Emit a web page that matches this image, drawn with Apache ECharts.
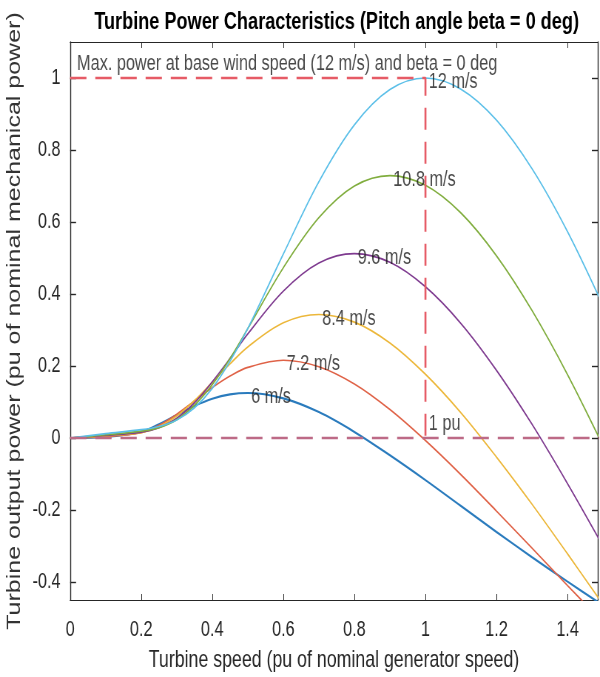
<!DOCTYPE html>
<html>
<head>
<meta charset="utf-8">
<script src="https://cdn.jsdelivr.net/npm/echarts@6/dist/echarts.min.js"></script>
<style>
  html, body { margin: 0; padding: 0; background: #fff; overflow: hidden; }
  /* the reference is squeezed horizontally, so draw wider and scale the box */
  #main { width: 811px; height: 677px; transform: scaleX(0.7398); transform-origin: 0 0; }
</style>
</head>
<body>
<div id="main"></div>
<script>
// turbine speed (pu) where the curves were read
var speed = [0, 0.1, 0.2, 0.25, 0.3, 0.35, 0.4, 0.45, 0.5, 0.6, 0.7, 0.8, 0.9, 1.0, 1.1, 1.2, 1.3, 1.4, 1.5];

// output power (pu) for each wind speed
var power6  = [0, 0.003, 0.017, 0.038, 0.064, 0.089, 0.109, 0.121, 0.125, 0.110, 0.072, 0.017, -0.048, -0.117, -0.189, -0.261, -0.331, -0.399, -0.465];
var power72 = [0, 0.004, 0.015, 0.035, 0.066, 0.103, 0.140, 0.172, 0.196, 0.216, 0.198, 0.150, 0.079, -0.007, -0.102, -0.203, -0.306, -0.410, -0.512];
var power84 = [0, 0.006, 0.015, 0.031, 0.061, 0.104, 0.155, 0.206, 0.253, 0.320, 0.343, 0.322, 0.264, 0.177, 0.070, -0.053, -0.184, -0.322, -0.463];
var power96 = [0, 0.007, 0.016, 0.029, 0.055, 0.098, 0.156, 0.221, 0.289, 0.408, 0.486, 0.512, 0.488, 0.420, 0.318, 0.188, 0.038, -0.127, -0.301];
var power108 = [0, 0.009, 0.019, 0.029, 0.051, 0.091, 0.148, 0.221, 0.304, 0.473, 0.612, 0.700, 0.729, 0.702, 0.625, 0.506, 0.354, 0.176, -0.022];
var power12 = [0, 0.012, 0.023, 0.032, 0.050, 0.084, 0.138, 0.213, 0.304, 0.511, 0.712, 0.870, 0.968, 1.000, 0.969, 0.883, 0.748, 0.573, 0.367];

var windNames = ['6 m/s', '7.2 m/s', '8.4 m/s', '9.6 m/s', '10.8 m/s', '12 m/s'];
var curves = [power6, power72, power84, power96, power108, power12];

// text labels placed on the chart (data coords)
var labelX = [0.5, 0.6, 0.7, 0.8, 0.9, 1.0, 1.0, 0.01];
var labelY = [0.125, 0.216, 0.343, 0.512, 0.729, 1.0, 0.05, 1.05];
var labelText = windNames.concat(['1 pu', 'Max. power at base wind speed (12 m/s) and beta = 0 deg']);

// reference lines
var maxLineX = [0, 1, 1];
var maxLineY = [1, 1, 0];
var zeroLineX = [0, 1.5];
var zeroLineY = [0, 0];

var xTicks = [0, 0.2, 0.4, 0.6, 0.8, 1, 1.2, 1.4];
var yTicks = [-0.4, -0.2, 0, 0.2, 0.4, 0.6, 0.8, 1];

var colors = ['#2a7bbd', '#df6247', '#ecb73a', '#7e3a8f', '#80ad3e', '#5bbfe8'];

function pairs(xs, ys) {
  return xs.map(function (x, i) { return [x, ys[i]]; });
}

var axisColor = '#262626';
var font = 'Liberation Sans, Arial, sans-serif';

var series = curves.map(function (c, i) {
  return {
    name: windNames[i],
    type: 'line',
    data: pairs(speed, c),
    showSymbol: false,
    smooth: 0.35,
    lineStyle: { color: colors[i], width: i === 0 ? 2.2 : 1.7 },
    z: 2
  };
});

series.push({
  type: 'line',
  data: pairs(maxLineX, maxLineY),
  showSymbol: false,
  lineStyle: { color: '#e65b66', width: 2.7, type: [22, 12] },
  z: 3
});
series.push({
  type: 'line',
  data: pairs(zeroLineX, zeroLineY),
  showSymbol: false,
  lineStyle: { color: '#bd6a86', width: 2.7, type: [22, 12] },
  z: 3
});
series.push({
  type: 'scatter',
  data: labelX.map(function (x, i) { return [x, labelY[i], labelText[i]]; }),
  symbolSize: 1,
  itemStyle: { color: 'rgba(0,0,0,0)' },
  label: {
    show: true,
    position: 'right',
    distance: 0,
    offset: [4, 4],
    formatter: function (p) { return p.value[2]; },
    fontSize: 22,
    fontFamily: font,
    color: '#1a1a1a'
  },
  z: 4
});

var chart = echarts.init(document.getElementById('main'));
chart.setOption({
  animation: false,
  textStyle: { fontFamily: font },
  title: {
    text: 'Turbine Power Characteristics (Pitch angle beta = 0 deg)',
    left: 450,
    textAlign: 'center',
    top: 5,
    textStyle: { fontSize: 24.5, fontWeight: 'bold', color: '#000', fontFamily: font }
  },
  grid: { left: 92, right: 3, top: 42, bottom: 73 },
  xAxis: [{
    type: 'value',
    min: 0,
    max: 1.485,
    position: 'bottom',
    name: 'Turbine speed (pu of nominal generator speed)',
    nameLocation: 'middle',
    nameGap: 48,
    nameTextStyle: { fontSize: 24, color: axisColor, fontFamily: font },
    axisLine: { show: true, onZero: false, lineStyle: { color: axisColor, width: 1.2 } },
    axisTick: { show: true, inside: true, length: 6, customValues: xTicks, lineStyle: { color: axisColor } },
    axisLabel: { customValues: xTicks, fontSize: 22, color: axisColor, margin: 19 },
    splitLine: { show: false }
  }, {
    type: 'value',
    min: 0,
    max: 1.485,
    position: 'top',
    axisLine: { show: true, onZero: false, lineStyle: { color: axisColor, width: 1.2 } },
    axisTick: { show: true, inside: true, length: 6, customValues: xTicks, lineStyle: { color: axisColor } },
    axisLabel: { show: false },
    splitLine: { show: false }
  }],
  yAxis: [{
    type: 'value',
    min: -0.45,
    max: 1.1,
    position: 'left',
    name: 'Turbine output power (pu of nominal mechanical power)',
    nameLocation: 'middle',
    nameGap: 55,
    nameTextStyle: { fontSize: 25, color: '#333', fontFamily: font },
    axisLine: { show: true, onZero: false, lineStyle: { color: axisColor, width: 1.4 } },
    axisTick: { show: true, inside: true, length: 8, customValues: yTicks, lineStyle: { color: axisColor, width: 1.4 } },
    axisLabel: { customValues: yTicks, fontSize: 22, color: axisColor, margin: 13 },
    splitLine: { show: false }
  }, {
    type: 'value',
    min: -0.45,
    max: 1.1,
    position: 'right',
    axisLine: { show: true, onZero: false, lineStyle: { color: axisColor, width: 1.4 } },
    axisTick: { show: true, inside: true, length: 8, customValues: yTicks, lineStyle: { color: axisColor, width: 1.4 } },
    axisLabel: { show: false },
    splitLine: { show: false }
  }],
  series: series
});
</script>
</body>
</html>
